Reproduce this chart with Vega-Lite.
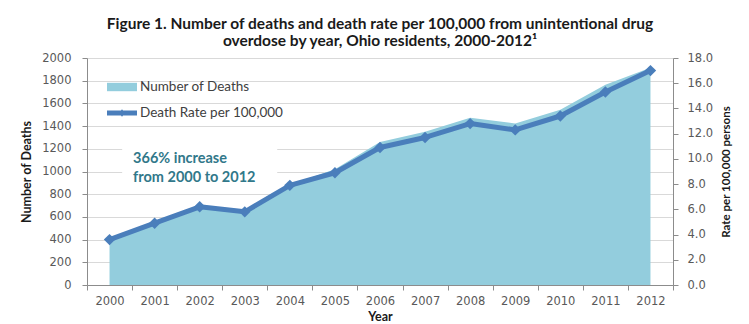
{
  "$schema": "https://vega.github.io/schema/vega-lite/v6.json",
  "width": 586,
  "height": 227,
  "autosize": {"type": "none"},
  "padding": {"left": 87, "top": 58, "right": 76, "bottom": 39},
  "background": "white",
  "title": {
    "text": [
      "Figure 1. Number of deaths and death rate per 100,000 from unintentional drug",
      "overdose by year, Ohio residents, 2000-2012¹"
    ],
    "font": "Lato",
    "fontSize": 15.5,
    "fontWeight": "bold",
    "color": "#1a1a1a",
    "anchor": "middle",
    "lineHeight": 17,
    "offset": 3
  },
  "datasets": {
    "overdose": [
      {"year": 2000, "deaths": 411, "rate": 3.6},
      {"year": 2001, "deaths": 546, "rate": 4.9},
      {"year": 2002, "deaths": 690, "rate": 6.2},
      {"year": 2003, "deaths": 647, "rate": 5.8},
      {"year": 2004, "deaths": 884, "rate": 7.9},
      {"year": 2005, "deaths": 1020, "rate": 8.9},
      {"year": 2006, "deaths": 1261, "rate": 10.9},
      {"year": 2007, "deaths": 1351, "rate": 11.7},
      {"year": 2008, "deaths": 1473, "rate": 12.8},
      {"year": 2009, "deaths": 1423, "rate": 12.3},
      {"year": 2010, "deaths": 1544, "rate": 13.4},
      {"year": 2011, "deaths": 1765, "rate": 15.3},
      {"year": 2012, "deaths": 1914, "rate": 17.0}
    ],
    "series": [
      {"series": "Number of Deaths"},
      {"series": "Death Rate per 100,000"}
    ],
    "note": [
      {"note": ["366% increase", "from 2000 to 2012"]}
    ]
  },
  "config": {
    "view": {"stroke": null},
    "axis": {
      "labelFont": "DejaVu Sans",
      "labelFontSize": 11.5,
      "labelColor": "#595959",
      "labelOverlap": false,
      "titleFont": "Lato",
      "titleFontWeight": "bold",
      "titleColor": "#1a1a1a",
      "domainColor": "#8c8c8c",
      "tickColor": "#8c8c8c",
      "tickSize": 5,
      "gridColor": "#d9d9d9",
      "gridWidth": 1
    }
  },
  "layer": [
    {
      "layer": [
        {
          "data": {"name": "note"},
          "mark": {"type": "rect", "color": "white"},
          "encoding": {
            "x": {"datum": 2000, "type": "ordinal", "bandPosition": 0.78},
            "x2": {"datum": 2004, "bandPosition": 0.22},
            "y": {
              "datum": 1260,
              "type": "quantitative",
              "axis": {
                "title": "Number of Deaths",
                "titleFontSize": 12.5,
                "titlePadding": 8,
                "values": [0, 200, 400, 600, 800, 1000, 1200, 1400, 1600, 1800, 2000],
                "format": "d",
                "labelPadding": 11,
                "grid": true
              }
            },
            "y2": {"datum": 930}
          }
        },
        {
          "data": {"name": "overdose"},
          "mark": {"type": "area", "color": "#93cddd", "opacity": 1},
          "encoding": {
            "x": {
              "field": "year",
              "type": "ordinal",
              "bandPosition": 0.5,
              "scale": {"type": "band", "paddingInner": 0, "paddingOuter": 0},
              "axis": {
                "title": "Year",
                "titleFontSize": 12.5,
                "titlePadding": 4,
                "labelAngle": 0,
                "labelAlign": "center",
                "labelPadding": 11,
                "bandPosition": 0.5,
                "tickBand": "extent",
                "grid": false
              }
            },
            "y": {
              "field": "deaths",
              "type": "quantitative",
              "scale": {"domain": [0, 2000], "nice": false},
              "axis": {
                "title": "Number of Deaths",
                "titleFontSize": 12.5,
                "titlePadding": 8,
                "values": [0, 200, 400, 600, 800, 1000, 1200, 1400, 1600, 1800, 2000],
                "format": "d",
                "labelPadding": 11,
                "grid": true
              }
            }
          }
        },
        {
          "data": {"name": "note"},
          "mark": {
            "type": "text",
            "align": "left",
            "baseline": "middle",
            "font": "Lato",
            "fontSize": 14.5,
            "fontWeight": "bold",
            "color": "#31788a",
            "lineHeight": 19,
            "dx": 1
          },
          "encoding": {
            "x": {"datum": 2001, "type": "ordinal", "bandPosition": 0},
            "y": {
              "datum": 1110,
              "type": "quantitative",
              "axis": {
                "title": "Number of Deaths",
                "titleFontSize": 12.5,
                "titlePadding": 8,
                "values": [0, 200, 400, 600, 800, 1000, 1200, 1400, 1600, 1800, 2000],
                "format": "d",
                "labelPadding": 11,
                "grid": true
              }
            },
            "text": {"field": "note"}
          }
        },
        {
          "data": {"name": "series"},
          "mark": {"type": "point", "filled": true, "opacity": 0},
          "encoding": {
            "color": {
              "field": "series",
              "type": "nominal",
              "scale": {
                "domain": ["Number of Deaths", "Death Rate per 100,000"],
                "range": ["#93cddd", "#4a7ebb"]
              },
              "legend": {
                "title": null,
                "orient": "none",
                "legendX": 25,
                "legendY": 19,
                "padding": 0,
                "symbolSize": 400,
                "symbolOpacity": 1,
                "symbolStrokeWidth": 0,
                "labelFont": "Lato",
                "labelFontSize": 13.5,
                "labelColor": "#404040",
                "labelOffset": 8,
                "rowPadding": 9,
                "encode": {
                  "symbols": {"update": {"opacity": {"value": 1}, "fillOpacity": {"value": 1}}}
                }
              }
            },
            "shape": {
              "field": "series",
              "type": "nominal",
              "scale": {
                "domain": ["Number of Deaths", "Death Rate per 100,000"],
                "range": [
                  "M-1.5,-0.42H1.5V0.42H-1.5Z",
                  "M-1.5,-0.24H1.5V0.24H-1.5Z M0,-0.38L0.3,0L0,0.38L-0.3,0Z"
                ]
              }
            }
          }
        }
      ]
    },
    {
      "data": {"name": "overdose"},
      "encoding": {
        "x": {"field": "year", "type": "ordinal", "bandPosition": 0.5},
        "y": {
          "field": "rate",
          "type": "quantitative",
          "scale": {"domain": [0, 18], "nice": false},
          "axis": {
            "orient": "right",
            "title": "Rate per 100,000 persons",
            "titleFontSize": 11.5,
            "titleAngle": 270,
            "titleBaseline": "top",
            "titlePadding": 8,
            "values": [0, 2, 4, 6, 8, 10, 12, 14, 16, 18],
            "format": ".1f",
            "labelPadding": 9,
            "grid": false
          }
        }
      },
      "layer": [
        {
          "mark": {"type": "line", "color": "#4a7ebb", "strokeWidth": 5, "strokeJoin": "round"}
        },
        {
          "mark": {"type": "point", "shape": "diamond", "filled": true, "size": 130, "color": "#4a7ebb", "opacity": 1}
        }
      ]
    }
  ],
  "resolve": {"scale": {"y": "independent"}}
}
